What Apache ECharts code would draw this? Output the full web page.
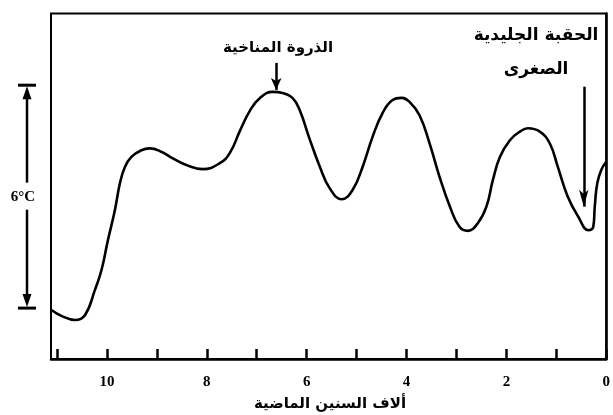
<!DOCTYPE html>
<html>
<head>
<meta charset="utf-8">
<script src="https://cdn.jsdelivr.net/npm/echarts@6/dist/echarts.min.js"></script>
<style>
  html, body { margin: 0; padding: 0; background: #fff; }
  #chart { width: 613px; height: 415px; }
</style>
</head>
<body>
<div id="chart"></div>
<script>
// Holocene temperature curve: thousands of years before present vs. relative temperature (°C)
const kyrAgo = [11.11, 10.91, 10.64, 10.44, 10.24, 10.11, 9.98, 9.84, 9.74, 9.64, 9.51, 9.31, 9.14, 8.91, 8.68, 8.41, 8.08, 7.74, 7.54, 7.33, 7.13, 6.94, 6.68, 6.48, 6.28, 6.14, 5.94, 5.74, 5.54, 5.30, 5.08, 4.88, 4.68, 4.48, 4.28, 4.10, 3.94, 3.74, 3.54, 3.34, 3.13, 2.94, 2.77, 2.57, 2.40, 2.27, 2.13, 1.93, 1.73, 1.57, 1.33, 1.13, 0.97, 0.77, 0.56, 0.36, 0.26, 0.23, 0.18, 0.10, 0.00];
const tempC  = [1.32, 1.16, 1.05, 1.18, 1.86, 2.39, 3.20, 4.01, 4.73, 5.17, 5.44, 5.62, 5.67, 5.58, 5.40, 5.22, 5.11, 5.27, 5.54, 6.16, 6.70, 7.02, 7.19, 7.16, 7.02, 6.70, 5.92, 5.19, 4.60, 4.30, 4.55, 5.17, 5.98, 6.62, 6.97, 7.03, 6.92, 6.56, 5.81, 4.91, 4.10, 3.56, 3.45, 3.66, 4.10, 4.82, 5.44, 5.89, 6.12, 6.21, 6.12, 5.80, 5.17, 4.37, 3.83, 3.47, 3.56, 4.10, 4.73, 5.09, 5.31];

const xTickLabels = [0, 2, 4, 6, 8, 10];
const xAxisTitle = 'ألاف السنين الماضية';

// Annotations: arrow x (kyr), arrow start y, arrow tip y
const optimumLabel = 'الذروة المناخية';
const optimumArrow = [6.61, 7.97, 7.24];
const iceAgeLabel = ['الحقبة الجليدية', 'الصغرى'];
const iceAgeArrow = [0.45, 7.33, 4.10];

// Scale bar spanning 6 °C
const scaleBar = [1.37, 7.37];
const scaleLabel = '6°C';

const arabicFont = '"DejaVu Sans", "Noto Sans", sans-serif';
const serifFont = '"Liberation Serif", "DejaVu Serif", serif';

const chart = echarts.init(document.getElementById('chart'), null, { renderer: 'canvas' });

chart.setOption({
  animation: false,
  backgroundColor: '#fff',
  grid: {
    left: 51, right: 6, top: 13.5, bottom: 56,
    show: true, borderColor: '#000', borderWidth: 2, backgroundColor: 'transparent'
  },
  xAxis: {
    type: 'value',
    min: 0,
    max: 11.12,
    interval: 1,
    inverse: true,
    axisLine: { lineStyle: { color: '#000', width: 2.5 } },
    axisTick: { inside: true, length: 10, lineStyle: { color: '#000', width: 2.5 } },
    splitLine: { show: false },
    axisLabel: {
      showMaxLabel: false,
      margin: 16,
      color: '#000',
      fontFamily: serifFont,
      fontWeight: 'bold',
      fontSize: 15,
      formatter: v => (xTickLabels.indexOf(v) >= 0 ? String(v) : '')
    }
  },
  yAxis: {
    type: 'value',
    min: 0,
    max: 9.3,
    axisLine: { show: true, lineStyle: { color: '#000', width: 2.5 } },
    axisTick: { show: false },
    axisLabel: { show: false },
    splitLine: { show: false }
  },
  series: [
    {
      type: 'line',
      data: kyrAgo.map((k, i) => [k, tempC[i]]),
      smooth: 0.45,
      showSymbol: false,
      lineStyle: { color: '#000', width: 2.6 },
      markLine: {
        silent: true,
        symbol: ['none', 'arrow'],
        label: { show: false },
        lineStyle: { color: '#000', width: 2.5, type: 'solid' },
        data: [
          [
            { coord: [optimumArrow[0], optimumArrow[1]], symbolSize: 0 },
            { coord: [optimumArrow[0], optimumArrow[2]], symbol: 'arrow', symbolSize: [8, 12] }
          ],
          [
            { coord: [iceAgeArrow[0], iceAgeArrow[1]], symbolSize: 0 },
            { coord: [iceAgeArrow[0], iceAgeArrow[2]], symbol: 'arrow', symbolSize: [7, 17] }
          ]
        ]
      }
    }
  ]
});

// Annotation texts plus the temperature scale bar beside the y axis, placed from the axis scale
const yTop = chart.convertToPixel({ yAxisIndex: 0 }, scaleBar[1]);
const yBot = chart.convertToPixel({ yAxisIndex: 0 }, scaleBar[0]);
const yMid = (yTop + yBot) / 2;
const bx = 27;
const head = 13;

function label(text, x, y, font) {
  return {
    type: 'text',
    style: { text: text, x: x, y: y, align: 'center', verticalAlign: 'middle', font: font, fill: '#000' }
  };
}

chart.setOption({
  graphic: [
    label(optimumLabel, 278, 48, 'bold 15px ' + arabicFont),
    label(iceAgeLabel[0], 536, 36, 'bold 17px ' + arabicFont),
    label(iceAgeLabel[1], 536, 70, 'bold 17px ' + arabicFont),
    label(xAxisTitle, 330, 404, 'bold 15px ' + arabicFont),
    { type: 'line', shape: { x1: 18, y1: yTop, x2: 36, y2: yTop }, style: { stroke: '#000', lineWidth: 3 } },
    { type: 'line', shape: { x1: 18, y1: yBot, x2: 36, y2: yBot }, style: { stroke: '#000', lineWidth: 3 } },
    { type: 'line', shape: { x1: bx, y1: yTop + head, x2: bx, y2: yMid - 14 }, style: { stroke: '#000', lineWidth: 2.5 } },
    { type: 'line', shape: { x1: bx, y1: yMid + 13, x2: bx, y2: yBot - head }, style: { stroke: '#000', lineWidth: 2.5 } },
    { type: 'polygon', shape: { points: [[bx, yTop + 1], [bx - 4.5, yTop + head + 1], [bx + 4.5, yTop + head + 1]] }, style: { fill: '#000' } },
    { type: 'polygon', shape: { points: [[bx, yBot - 1], [bx - 4.5, yBot - head - 1], [bx + 4.5, yBot - head - 1]] }, style: { fill: '#000' } },
    label(scaleLabel, 23, yMid, 'bold 15px ' + serifFont)
  ]
});
</script>
</body>
</html>
